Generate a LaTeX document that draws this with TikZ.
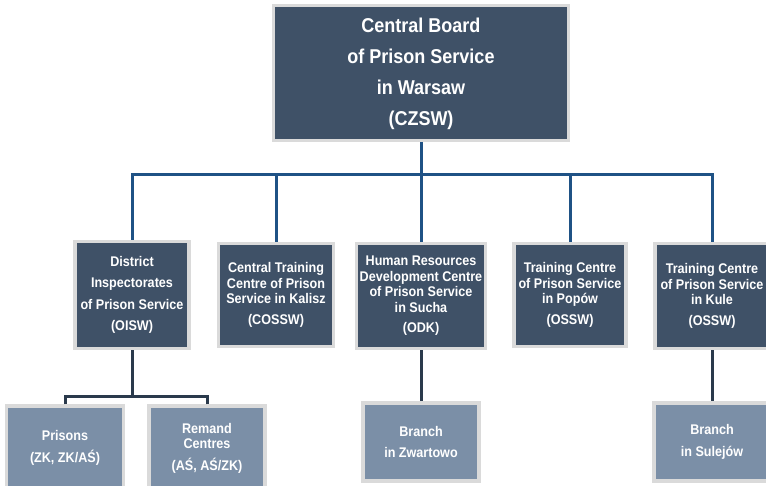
\documentclass[tikz,border=0pt]{standalone}
\usepackage{fontspec}
\setmainfont{Liberation Sans}[FakeStretch=0.9]
\definecolor{boardslate}{HTML}{3F5167}
\definecolor{unitslate}{HTML}{7B8FA7}
\definecolor{framegrey}{HTML}{DADADA}
\definecolor{linkblue}{HTML}{1F5285}
\definecolor{linkdark}{HTML}{2A3A4C}
\tikzset{
  unitbox/.style={draw=framegrey, line width=3.5pt, fill=boardslate, text=white,
    align=center, inner sep=0pt, font=\bfseries\fontsize{14}{15.5}\selectfont},
  subunit/.style={unitbox, fill=unitslate},
  bluelink/.style={draw=linkblue, line width=3pt},
  darklink/.style={draw=linkdark, line width=3pt}
}
\begin{document}
\begin{tikzpicture}[x=1pt, y=-1pt]
        \useasboundingbox (0, 0) rectangle (766, 486);
        % top level
        \node[unitbox, minimum width=295, minimum height=135,
              font=\bfseries\fontsize{20}{31}\selectfont] (czsw) at (421, 73)
              {\rule{0pt}{17pt}Central Board\\of Prison Service\\in Warsaw\\(CZSW)};
        % second level
        \node[unitbox, minimum width=114, minimum height=107,
              font=\bfseries\fontsize{14}{21.5}\selectfont] (oisw) at (132, 295)
              {District\\Inspectorates\\of Prison Service\\(OISW)};
        \node[unitbox, minimum width=115, minimum height=103] (cossw) at (276, 295)
              {Central Training\\Centre of Prison\\Service in Kalisz\\[5pt](COSSW)};
        \node[unitbox, minimum width=129, minimum height=105] (odk) at (421, 296)
              {Human Resources\\Development Centre\\of Prison Service\\in Sucha\\[5pt](ODK)};
        \node[unitbox, minimum width=112, minimum height=103] (popow) at (570, 295)
              {Training Centre\\of Prison Service\\in Popów\\[5pt](OSSW)};
        \node[unitbox, minimum width=114, minimum height=105] (kule) at (712, 296)
              {Training Centre\\of Prison Service\\in Kule\\[5pt](OSSW)};
        % third level
        \node[subunit, minimum width=117, minimum height=84,
              font=\bfseries\fontsize{14}{21.5}\selectfont] (prisons) at (65, 448)
              {Prisons\\(ZK, ZK/AŚ)};
        \node[subunit, minimum width=116, minimum height=84] (remand) at (207, 448)
              {Remand\\Centres\\[6pt](AŚ, AŚ/ZK)};
        \node[subunit, minimum width=116, minimum height=78,
              font=\bfseries\fontsize{14}{21.5}\selectfont] (zwartowo) at (421, 442)
              {Branch\\in Zwartowo};
        \node[subunit, minimum width=116, minimum height=78,
              font=\bfseries\fontsize{14}{21.5}\selectfont] (sulejow) at (712, 442)
              {Branch\\in Sulejów};
        % connectors
        \coordinate (bus) at (421, 175);
        \coordinate (oiswbus) at (132, 396);
        \draw[bluelink] (czsw.south) -- (bus);
        \draw[bluelink] (oisw.north) |- (bus);
        \draw[bluelink] (cossw.north) |- (bus);
        \draw[bluelink] (odk.north) -- (bus);
        \draw[bluelink] (popow.north) |- (bus);
        \draw[bluelink] (kule.north) |- (bus);
        \draw[darklink] (oisw.south) -- (oiswbus);
        \draw[darklink] (prisons.north) |- (oiswbus);
        \draw[darklink] (remand.north) |- (oiswbus);
        \draw[darklink] (odk.south) -- (zwartowo.north);
        \draw[darklink] (kule.south) -- (sulejow.north);
     \end{tikzpicture}
\end{document}
